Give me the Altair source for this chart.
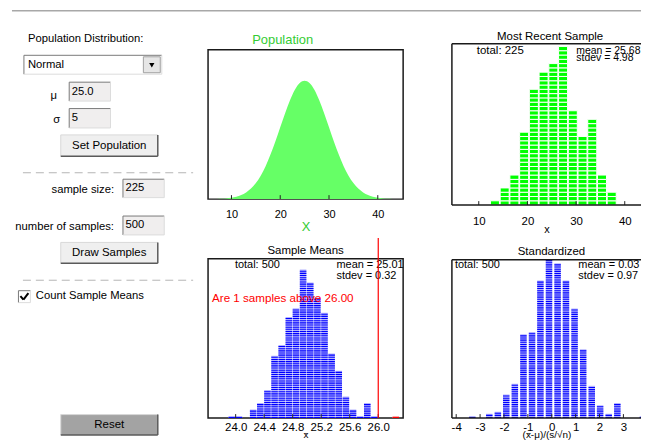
import altair as alt
import pandas as pd

FONT = "Liberation Sans"

# ---------------- texts of the control panel ----------------
ui_heading = "Population Distribution:"
ui_dist = "Normal"
ui_mu_label, ui_mu_value = "μ", "25.0"
ui_sigma_label, ui_sigma_value = "σ", "5"
ui_set_button = "Set Population"
ui_size_label, ui_size_value = "sample size:", "225"
ui_num_label, ui_num_value = "number of samples:", "500"
ui_draw_button = "Draw Samples"
ui_check_label = "Count Sample Means"
ui_reset_button = "Reset"

# ---------------- population (normal, mu=25, sigma=5) ----------------
pop_title = "Population"
pop_x = list(range(5, 46))
pop_density = [0.0000, 0.0001, 0.0001, 0.0002, 0.0005, 0.0009, 0.0016, 0.0027,
               0.0045, 0.0071, 0.0108, 0.0158, 0.0222, 0.0300, 0.0388, 0.0484,
               0.0579, 0.0666, 0.0737, 0.0782, 0.0798, 0.0782, 0.0737, 0.0666,
               0.0579, 0.0484, 0.0388, 0.0300, 0.0222, 0.0158, 0.0108, 0.0071,
               0.0045, 0.0027, 0.0016, 0.0009, 0.0005, 0.0002, 0.0001, 0.0001,
               0.0000]
pop_ticks = [10, 20, 30, 40]

# ---------------- most recent sample ----------------
recent_title = "Most Recent Sample"
recent_bin_start = [12.4, 14.4, 16.4, 18.4, 20.4, 22.4, 24.4, 26.4, 28.4, 30.4, 32.4, 34.4, 36.4]
recent_counts = [1, 4, 7, 17, 27, 31, 33, 37, 22, 16, 20, 7, 3]
recent_ticks = [10, 20, 30, 40]
recent_stats = ["total: 225", "mean = 25.68", "stdev = 4.98"]

# ---------------- sample means ----------------
means_title = "Sample Means"
means_bin_start = [23.9, 24.0, 24.2, 24.3, 24.4, 24.5, 24.6, 24.7, 24.8, 24.9, 25.0,
                   25.1, 25.2, 25.3, 25.4, 25.5, 25.6, 25.7, 25.8, 25.9, 26.2]
means_counts = [1, 1, 4, 7, 13, 29, 34, 47, 51, 69, 63, 56, 49, 30, 22, 10, 4, 1, 7, 1, 1]
means_ticks = [24.0, 24.4, 24.8, 25.2, 25.6, 26.0]
means_cutoff = [26.0]
means_stats = ["total: 500", "mean = 25.01", "stdev = 0.32"]
means_note = "Are 1 samples above 26.00"

# ---------------- standardized ----------------
std_title = "Standardized"
std_bin_start = [-3.46, -2.75, -2.39, -2.04, -1.68, -1.32, -0.96, -0.61, -0.25, 0.11,
                 0.46, 0.82, 1.18, 1.54, 1.89, 2.25, 2.61, 3.68]
std_counts = [1, 2, 3, 11, 16, 39, 40, 64, 74, 72, 64, 51, 32, 15, 6, 2, 7, 1]
std_ticks = [-4, -3, -2, -1, 0, 1, 2, 3]
std_stats = ["total: 500", "mean = 0.03", "stdev = 0.97"]

GREEN_AREA = "#66ff66"
GREEN_BAR = "#00ff00"
GREEN_TXT = "#33cc33"
BLUE = "#0000ff"
BLUE_LIGHT = "#b4b4ff"
RED = "#ff0000"
FRAME = "#1a1a1a"

one = pd.DataFrame({"k": [0]})
O = 8  # page margin


def B():
    return alt.Chart(one)


def rect(x1, y1, x2, y2, fill, stroke=None, sw=1, off=O):
    kw = {"fill": fill}
    if stroke is not None:
        kw["stroke"] = stroke
        kw["strokeWidth"] = sw
    return B().mark_rect(**kw).encode(
        x=alt.value(x1 - off), x2=alt.value(x2 - off),
        y=alt.value(y1 - off), y2=alt.value(y2 - off))


def seg(x1, y1, x2, y2, color, sw=1, dash=None, off=O):
    kw = {"color": color, "strokeWidth": sw}
    if dash:
        kw["strokeDash"] = dash
    return B().mark_rule(**kw).encode(
        x=alt.value(x1 - off), x2=alt.value(x2 - off),
        y=alt.value(y1 - off), y2=alt.value(y2 - off))


def txt(s, x, y, size=11.3, color="black", align="left", off=O):
    return B().mark_text(text=s, font=FONT, fontSize=size, color=color,
                         align=align, baseline="middle").encode(
        x=alt.value(x - off), y=alt.value(y - off))


def sunken(x1, y1, x2, y2, fill="#f0eeee"):
    return [rect(x1, y1, x2, y2, fill),
            seg(x1, y1, x2, y1, "#7a7a7a"), seg(x1, y1, x1, y2, "#7a7a7a"),
            seg(x1, y2, x2, y2, "#dcdcdc"), seg(x2, y1, x2, y2, "#dcdcdc")]


def button(x1, y1, x2, y2, label, fill="#efefef"):
    return [rect(x1, y1, x2, y2, fill),
            seg(x1, y1, x2, y1, "#d8d8d8"), seg(x1, y1, x1, y2, "#d8d8d8"),
            seg(x1, y2, x2, y2, "#5a5a5a", 1.5), seg(x2, y1, x2, y2, "#5a5a5a", 1.5),
            txt(label, (x1 + x2) / 2, (y1 + y2) / 2, size=11.5, align="center")]


ui_layers = [rect(8, 8, 200, 436, "white"),
             seg(11, 8.75, 643, 8.75, "#a8a8a8", 1.5),
             txt(ui_heading, 27, 36.7)]
ui_layers += sunken(23, 53.5, 161.5, 72.5, "white")
ui_layers += [txt(ui_dist, 27, 63.3),
              rect(143, 55, 160, 71, "#e6e6e6", "#a0a0a0"),
              B().mark_point(shape="triangle-down", filled=True, size=28, color="black",
                             opacity=1).encode(x=alt.value(151.5 - O), y=alt.value(63.5 - O)),
              txt(ui_mu_label, 53, 94.3, align="center")]
ui_layers += sunken(68.5, 80.5, 110, 99.5)
ui_layers += [txt(ui_mu_value, 71, 90.3), txt(ui_sigma_label, 56, 118.5, align="center")]
ui_layers += sunken(68.5, 107, 110, 126.5)
ui_layers += [txt(ui_sigma_value, 71, 116.8)]
ui_layers += button(60, 133.5, 157.5, 155, ui_set_button)
ui_layers += [seg(22, 171.5, 193, 171.5, "#b4b4b4", 1, [8, 5]),
              txt(ui_size_label, 113.5, 189, align="right")]
ui_layers += sunken(122.5, 178, 164, 196.5)
ui_layers += [txt(ui_size_value, 125, 187.3), txt(ui_num_label, 113.5, 226.5, align="right")]
ui_layers += sunken(122.5, 215, 164, 234)
ui_layers += [txt(ui_num_value, 125, 224.5)]
ui_layers += button(60, 241.5, 157.5, 262.5, ui_draw_button)
ui_layers += [seg(22, 279.5, 193, 279.5, "#b4b4b4", 1, [8, 5])]
ui_layers += sunken(17.5, 290, 29.5, 302, "white")
ui_layers += [seg(19.5, 295.5, 22.5, 299, "black", 2), seg(22.5, 299, 27.5, 292.5, "black", 2),
              txt(ui_check_label, 35, 295.7)]
ui_layers += button(60, 414.5, 157.5, 435, ui_reset_button, fill="#a3a3a3")

ui_chart = alt.layer(*ui_layers).properties(
    width=192, height=428, view=alt.ViewBackground(stroke="transparent"))


def expand(starts, counts):
    rows = []
    for s, c in zip(starts, counts):
        for k in range(c):
            rows.append({"start": s, "k": k, "k1": k + 1, "kh": k + 0.5})
    return pd.DataFrame(rows)


def tick_rules(ticks, scale, axis, h):
    return alt.Chart(pd.DataFrame({"t": ticks})).mark_rule(
        color="#222", strokeWidth=1, clip=True).encode(
        x=alt.X("t:Q", scale=scale, axis=axis), y=alt.value(h), y2=alt.value(h - 4))


def ptxt(s, x, y, size=11, color="black", align="left"):
    return txt(s, x, y, size=size, color=color, align=align, off=0)


def frame3(w, h):
    # left, top and bottom border (the right edge lies past the window)
    return [seg(0, 0, 0, h, FRAME, 1.5, off=0), seg(0, 0, w, 0, FRAME, 1.5, off=0),
            seg(0, h, w, h, FRAME, 1.5, off=0)]


# ---------------- population panel ----------------
pop_xs = alt.Scale(domain=[5.2, 45.2], nice=False, zero=False)
pop_axis = alt.Axis(values=pop_ticks, title="X", labelPadding=9, labelFontSize=11,
                    titleColor=GREEN_TXT, titleFontSize=13, titleY=27.8, titleBaseline="middle")
pop_area = alt.Chart(pd.DataFrame({"x": pop_x, "d": pop_density})).mark_area(
    color=GREEN_AREA, interpolate="monotone", clip=True).encode(
    x=alt.X("x:Q", scale=pop_xs, axis=pop_axis),
    y=alt.Y("d:Q", scale=alt.Scale(domain=[0, 0.1006], nice=False), axis=None))
pop_chart = alt.layer(pop_area, tick_rules(pop_ticks, pop_xs, pop_axis, 150),
                      ptxt(pop_title, 75, -10.2, 13, GREEN_TXT, "center")).properties(
    width=196, height=150)

# ---------------- most recent sample panel ----------------
R_W = 190
rec_xs = alt.Scale(domain=[4.48, 4.48 + R_W / 4.889], nice=False, zero=False)
rec_ys = alt.Scale(domain=[0, 37.6], nice=False)
rec_axis = alt.Axis(values=recent_ticks, title="x", labelPadding=11, labelFontSize=11.5,
                    titleY=25, titleBaseline="middle")
rec_bars = alt.Chart(expand(recent_bin_start, recent_counts)).transform_calculate(
    end="datum.start + 1.85").mark_rect(fill=GREEN_BAR, stroke="white", strokeWidth=1,
                                        clip=True).encode(
    x=alt.X("start:Q", scale=rec_xs, axis=rec_axis),
    x2="end:Q",
    y=alt.Y("k:Q", scale=rec_ys, axis=None), y2="k1:Q")
recent_chart = alt.layer(
    rec_bars, tick_rules(recent_ticks, rec_xs, rec_axis, 162), *frame3(R_W, 162),
    ptxt(recent_title, 98.7, -6.5, 11.5, align="center"),
    ptxt(recent_stats[0], 25, 7.5, 11.5), ptxt(recent_stats[1], 125, 6.8, 10.5),
    ptxt(recent_stats[2], 125, 14.6, 10.5)).properties(
    width=R_W, height=162, view=alt.ViewBackground(stroke="transparent"))


# ---------------- striped histograms ----------------
def striped(starts, counts, xs, ys, width, axis, cutoff=None):
    base_df = pd.DataFrame({"start": starts, "count": counts})
    color = alt.value(BLUE_LIGHT)
    color_u = alt.value(BLUE)
    if cutoff is not None:
        test = f"datum.start >= {cutoff}"
        color = alt.condition(test, alt.value("#ffa8a8"), alt.value(BLUE_LIGHT))
        color_u = alt.condition(test, alt.value(RED), alt.value(BLUE))
    bg = alt.Chart(base_df).transform_calculate(end=f"datum.start + {width}").mark_rect(
        clip=True).encode(
        x=alt.X("start:Q", scale=xs, axis=axis), x2="end:Q",
        y=alt.Y("count:Q", scale=ys, axis=None), y2=alt.datum(0), color=color)
    units = alt.Chart(expand(starts, counts)).transform_calculate(
        end=f"datum.start + {width}").mark_rect(clip=True).encode(
        x=alt.X("start:Q", scale=xs, axis=axis), x2="end:Q",
        y=alt.Y("k:Q", scale=ys, axis=None), y2="kh:Q", color=color_u)
    return [bg, units]


M_H = 160
m_xs = alt.Scale(domain=[23.613, 26.349], nice=False, zero=False)
m_ys = alt.Scale(domain=[0, 74], nice=False)
m_axis = alt.Axis(values=means_ticks, format=".1f", title="x̄", labelPadding=3,
                  labelFontSize=11.5, titleY=17, titleBaseline="middle", titleFontSize=10)
m_layers = striped(means_bin_start, means_counts, m_xs, m_ys, 0.092, m_axis, means_cutoff[0])
m_layers += [tick_rules(means_ticks, m_xs, m_axis, M_H),
             ptxt(means_title, 98, -7.5, 11.5, align="center"),
             ptxt(means_stats[0], 27, 6.5), ptxt(means_stats[1], 129, 6.5),
             ptxt(means_stats[2], 129, 17.5),
             ptxt(means_note, 4, 39, 11.7, RED),
             alt.Chart(pd.DataFrame({"c": means_cutoff})).mark_rule(color=RED, strokeWidth=1.2).encode(
                 x=alt.X("c:Q", scale=m_xs, axis=m_axis), y=alt.value(-21), y2=alt.value(M_H))]
means_chart = alt.layer(*m_layers).properties(width=196, height=M_H)

S_H = 159
s_xs = alt.Scale(domain=[-4.18, -4.18 + R_W / 24.0], nice=False, zero=False)
s_ys = alt.Scale(domain=[0, 73.6], nice=False)
s_axis = alt.Axis(values=std_ticks, labelExpr="'' + datum.value", title="(x̄-μ)/(s/√n)",
                  labelPadding=3, labelFontSize=11.5, titleY=17, titleBaseline="middle",
                  titleFontSize=10)
s_layers = striped(std_bin_start, std_counts, s_xs, s_ys, 0.27, s_axis)
s_layers += [tick_rules(std_ticks, s_xs, s_axis, S_H), *frame3(R_W, S_H),
             ptxt(std_title, 100, -7.5, 11.5, align="center"),
             ptxt(std_stats[0], 3, 5.5), ptxt(std_stats[1], 127, 5.5),
             ptxt(std_stats[2], 127, 16.5)]
std_chart = alt.layer(*s_layers).properties(
    width=R_W, height=S_H, view=alt.ViewBackground(stroke="transparent"))


def spacer(h):
    return B().mark_rect(opacity=0).encode(
        x=alt.value(0), x2=alt.value(1), y=alt.value(0), y2=alt.value(h)).properties(
        width=1, height=h, view=alt.ViewBackground(stroke="transparent"))


mid = alt.vconcat(spacer(40), alt.vconcat(pop_chart, means_chart, spacing=60, bounds="flush"),
                  spacing=0, bounds="flush")
right = alt.vconcat(spacer(34), alt.vconcat(recent_chart, std_chart, spacing=55, bounds="flush"),
                    spacing=0, bounds="flush")
# nested concat groups count as zero width in a flush layout, so the gap holds
# the middle column's width (196) plus the 49 px gutter
chart = alt.hconcat(ui_chart, alt.hconcat(mid, right, spacing=245, bounds="flush"),
                    spacing=8, bounds="flush").properties(padding=0)

chart = chart.configure_view(stroke=FRAME, strokeWidth=1.5).configure_axis(
    domain=False, ticks=False, tickSize=0, grid=False, labelFont=FONT, titleFont=FONT,
    labelColor="black", titleColor="black", titleFontWeight="normal",
    labelOverlap=False, labelFlush=False).configure_title(
    font=FONT, fontSize=11.5, fontWeight="normal", color="black", anchor="middle")

chart.save("out.html", embed_options={"renderer": "svg", "actions": False})
